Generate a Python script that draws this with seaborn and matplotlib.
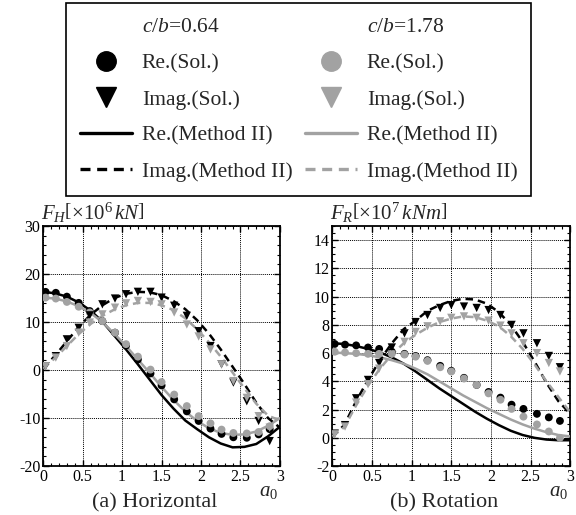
import matplotlib
matplotlib.use("Agg")
import matplotlib.pyplot as plt
from matplotlib.lines import Line2D
from matplotlib.ticker import MultipleLocator, FixedLocator, FixedFormatter
import seaborn as sns

# sampled frequencies of the solution points and of the Method II curves
a0_pts = [0.03, 0.16, 0.30, 0.45, 0.59, 0.75, 0.91, 1.05, 1.20, 1.36,
          1.50, 1.66, 1.82, 1.97, 2.12, 2.26, 2.41, 2.58, 2.73, 2.87]
a0_line = [0.0, 0.15, 0.3, 0.45, 0.6, 0.75, 0.9, 1.05, 1.2, 1.35, 1.5,
           1.65, 1.8, 1.95, 2.1, 2.25, 2.4, 2.55, 2.7, 2.85, 3.0]

# (a) horizontal, x10^6 kN
H_re_sol_064 = [16.3, 16.1, 15.3, 14.0, 12.3, 10.2, 7.8, 5.1, 2.2, -0.7,
                -3.2, -6.1, -8.6, -10.6, -12.2, -13.3, -14.0, -14.1, -13.4, -12.3]
H_re_sol_178 = [15.1, 14.9, 14.2, 13.2, 12.0, 10.2, 7.8, 5.4, 2.8, 0.1,
                -2.5, -5.1, -7.5, -9.6, -11.1, -12.4, -13.1, -13.2, -12.9, -11.7]
H_im_sol_064 = [0.8, 2.9, 6.4, 8.8, 11.4, 13.7, 14.9, 15.8, 16.3, 16.3,
                15.1, 13.4, 11.3, 8.1, 5.0, 1.2, -2.6, -6.5, -10.6, -14.8]
H_im_sol_178 = [0.8, 2.6, 5.0, 7.8, 9.9, 11.6, 13.0, 13.9, 14.4, 14.2,
                13.7, 12.0, 9.5, 7.0, 4.3, 1.2, -2.3, -5.8, -9.6, -12.0]
H_re_m2_064 = [16.3, 16.0, 15.3, 14.1, 12.4, 10.1, 7.2, 4.3, 1.2, -2.0, -5.2,
               -8.0, -10.5, -12.3, -14.0, -15.3, -16.1, -16.0, -15.4, -13.8, -11.8]
H_re_m2_178 = [15.1, 14.9, 14.3, 13.3, 11.9, 10.0, 7.6, 5.0, 2.2, -0.6, -3.5,
               -6.2, -8.6, -10.6, -12.1, -13.1, -13.5, -13.4, -12.8, -11.6, -10.0]
H_im_m2_064 = [0.3, 3.0, 6.0, 9.0, 11.5, 13.5, 15.0, 15.9, 16.3, 16.2, 15.6,
               14.4, 12.7, 10.4, 7.6, 4.3, 0.7, -2.9, -6.8, -10.0, -12.0]
H_im_m2_178 = [0.3, 2.5, 5.0, 7.5, 9.6, 11.3, 12.6, 13.5, 14.0, 14.0, 13.5,
               12.5, 10.8, 8.5, 5.8, 2.8, -0.5, -3.8, -7.0, -9.5, -10.5]

# (b) rotation, x10^7 kNm
R_re_sol_064 = [6.65, 6.6, 6.55, 6.4, 6.3, 6.1, 5.95, 5.8, 5.5, 5.1,
                4.75, 4.25, 3.75, 3.25, 2.85, 2.35, 2.05, 1.7, 1.45, 1.2]
R_re_sol_178 = [6.1, 6.05, 6.0, 5.95, 5.95, 5.95, 5.9, 5.75, 5.45, 5.0,
                4.7, 4.2, 3.75, 3.15, 2.7, 2.05, 1.5, 0.95, 0.45, 0.0]
R_im_sol_064 = [0.3, 0.9, 2.8, 4.1, 5.3, 6.4, 7.4, 8.2, 8.7, 9.2,
                9.4, 9.3, 9.2, 9.05, 8.7, 8.0, 7.4, 6.7, 5.8, 5.0]
R_im_sol_178 = [0.25, 0.8, 2.5, 3.8, 4.9, 5.9, 6.8, 7.5, 7.9, 8.25,
                8.5, 8.6, 8.5, 8.3, 7.95, 7.4, 6.7, 6.0, 5.3, 4.7]
R_re_m2_064 = [6.7, 6.65, 6.5, 6.3, 6.05, 5.7, 5.25, 4.7, 4.1, 3.5, 2.95,
               2.4, 1.85, 1.35, 0.9, 0.5, 0.2, 0.0, -0.12, -0.17, -0.17]
R_re_m2_178 = [6.05, 6.0, 5.95, 5.85, 5.7, 5.5, 5.25, 4.9, 4.5, 4.0, 3.5,
               3.0, 2.55, 2.1, 1.7, 1.3, 0.95, 0.65, 0.4, 0.2, 0.1]
R_im_m2_064 = [0.1, 0.9, 2.6, 4.1, 5.5, 6.7, 7.7, 8.3, 9.0, 9.4, 9.7,
               9.85, 9.8, 9.5, 8.9, 8.0, 6.8, 5.4, 3.9, 2.6, 1.7]
R_im_m2_178 = [0.1, 0.75, 2.3, 3.7, 4.9, 5.9, 6.7, 7.3, 7.8, 8.2, 8.45,
               8.6, 8.55, 8.3, 7.9, 7.2, 6.3, 5.2, 4.0, 2.9, 1.8]

x_ticks = [0, 0.5, 1, 1.5, 2, 2.5, 3]
x_tick_labels = ["0", "0.5", "1", "1.5", "2", "2.5", "3"]

BLACK = "black"
GRAY = "#a2a2a2"
DASH = (0, (3, 2))

sns.set_theme(style="ticks")
plt.rcParams["font.family"] = ["Liberation Serif", "DejaVu Serif"]
plt.rcParams["mathtext.fontset"] = "custom"
plt.rcParams["mathtext.rm"] = "Liberation Serif"
plt.rcParams["mathtext.it"] = "Liberation Serif:italic"
plt.rcParams["mathtext.bf"] = "Liberation Serif:bold"
plt.rcParams["axes.unicode_minus"] = False

fig = plt.figure(figsize=(5.76, 5.15), dpi=100)
ax1 = fig.add_axes([0.075, 0.095, 0.411, 0.466])
ax2 = fig.add_axes([0.577, 0.095, 0.413, 0.466])


def draw_panel(ax, re_s, im_s, re_m, im_m, ylim, ymajor, yminor, ylabel, caption):
    for vals, col in zip(re_m, [BLACK, GRAY]):
        sns.lineplot(x=a0_line, y=vals, color=col, linewidth=1.8, ax=ax, zorder=3)
    for vals, col in zip(im_m, [BLACK, GRAY]):
        sns.lineplot(x=a0_line, y=vals, color=col, linewidth=1.8,
                     linestyle=DASH, ax=ax, zorder=3)
    for vals, col in zip(re_s, [BLACK, GRAY]):
        sns.scatterplot(x=a0_pts, y=vals, color=col, marker="o", s=32,
                        edgecolor="none", ax=ax, zorder=4)
    for vals, col in zip(im_s, [BLACK, GRAY]):
        sns.scatterplot(x=a0_pts, y=vals, color=col, marker="v", s=36,
                        edgecolor="none", ax=ax, zorder=4)

    ax.set_xlim(0, 3)
    ax.set_ylim(*ylim)
    ax.xaxis.set_major_locator(FixedLocator(x_ticks))
    ax.xaxis.set_major_formatter(FixedFormatter(x_tick_labels))
    ax.xaxis.set_minor_locator(MultipleLocator(0.1))
    ax.yaxis.set_major_locator(MultipleLocator(ymajor))
    ax.yaxis.set_minor_locator(MultipleLocator(yminor))
    ax.tick_params(which="both", direction="in", top=True, right=True,
                   labelsize=11.5, pad=2, colors="black")
    ax.tick_params(which="major", length=4, width=1.0)
    ax.tick_params(which="minor", length=2.2, width=0.8)
    for sp in ax.spines.values():
        sp.set_linewidth(1.3)
        sp.set_color("black")
    ax.grid(which="major", linestyle=(0, (1, 1)), color="black", linewidth=0.7)
    ax.set_xlabel("")
    ax.set_ylabel("")
    ax.text(-0.01, 1.005, ylabel, transform=ax.transAxes, ha="left",
            va="bottom", fontsize=15)
    ax.text(0.95, -0.104, r"$a_0$", transform=ax.transAxes, ha="center",
            va="center", fontsize=15)
    ax.text(0.47, -0.155, caption, transform=ax.transAxes, ha="center",
            va="center", fontsize=16)


draw_panel(ax1, [H_re_sol_064, H_re_sol_178], [H_im_sol_064, H_im_sol_178],
           [H_re_m2_064, H_re_m2_178], [H_im_m2_064, H_im_m2_178],
           (-20, 30), 10, 2, r"$F_H\left[\times 10^6\,kN\right]$", "(a) Horizontal")
draw_panel(ax2, [R_re_sol_064, R_re_sol_178], [R_im_sol_064, R_im_sol_178],
           [R_re_m2_064, R_re_m2_178], [R_im_m2_064, R_im_m2_178],
           (-2, 15), 2, 0.5, r"$F_R\left[\times 10^7\,kNm\right]$", "(b) Rotation")
ax2.set_yticks([-2, 0, 2, 4, 6, 8, 10, 12, 14])


def legend_block(col, ratio):
    return [
        Line2D([], [], linestyle="none", label=r"$c/b$=" + ratio),
        Line2D([0], [0], marker="o", color=col, linestyle="none",
               markersize=14, label="Re.(Sol.)"),
        Line2D([0], [0], marker="v", color=col, linestyle="none",
               markersize=14, label="Imag.(Sol.)"),
        Line2D([0], [0], color=col, linewidth=2.4, label="Re.(Method II)"),
        Line2D([0], [0], color=col, linewidth=2.4, linestyle=DASH,
               label="Imag.(Method II)"),
    ]


handles = legend_block(BLACK, "0.64") + legend_block(GRAY, "1.78")
leg = fig.legend(handles=handles, ncol=2, loc="upper center",
                 bbox_to_anchor=(0.519, 0.994), fontsize=15.5, frameon=True,
                 fancybox=False, shadow=False, handlelength=2.4,
                 handletextpad=0.45, columnspacing=0.6, labelspacing=0.75,
                 borderpad=0.65, borderaxespad=0)
leg.get_frame().set_edgecolor("black")
leg.get_frame().set_linewidth(1.2)
leg.get_frame().set_alpha(1)

fig.savefig("out.png", dpi=100)
